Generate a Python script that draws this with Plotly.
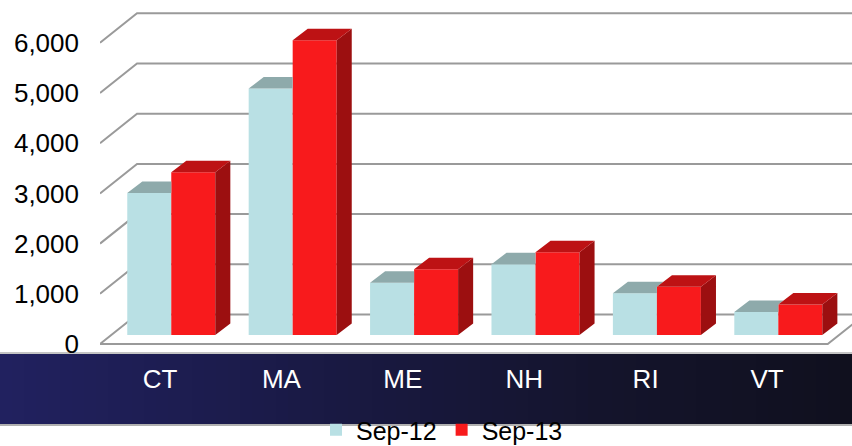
import plotly.graph_objects as go

# ---------------- data ----------------
categories = ["CT", "MA", "ME", "NH", "RI", "VT"]
series_names = ["Sep-12", "Sep-13"]
sep12 = [2830, 4910, 1040, 1410, 830, 460]
sep13 = [3240, 5870, 1310, 1650, 960, 610]
y_ticks = [0, 1000, 2000, 3000, 4000, 5000, 6000]

# ---------------- style / geometry ----------------
FONT = "Liberation Sans, Arial, sans-serif"
W, H = 852, 446
M_L, M_R, M_T, M_B = 100, 0, 0, 93
X_RANGE = [-0.494, 5.70]
Y_RANGE = [-179, 6853]
WALL_DX, WALL_DY = 0.305, 588          # depth of the 3D box (axis units)
BAR_PLANE = 0.305                       # fraction of depth where bars stand
BAR_SHIFT_X = WALL_DX * BAR_PLANE
BAR_BASE = WALL_DY * BAR_PLANE
BAR_W = 0.3625
BAR_DX, BAR_DY = 0.124, 229             # depth of each bar
FLOOR_RIGHT = 5.50
C12, C12_TOP = "#b9e0e4", "#8eaaab"
C13, C13_TOP, C13_SIDE = "#f81a1c", "#bd1214", "#9c0f10"
GRID = "#9a9a9a"

fig = go.Figure()

xs = list(range(len(categories)))
xc = [i + BAR_SHIFT_X for i in xs]

# front faces
fig.add_trace(go.Bar(x=xc, y=sep12, base=BAR_BASE, width=BAR_W, offset=-BAR_W,
                     name=series_names[0], marker=dict(color=C12, line=dict(width=0)),
                     hoverinfo="skip"))
fig.add_trace(go.Bar(x=xc, y=sep13, base=BAR_BASE, width=BAR_W, offset=0,
                     name=series_names[1], marker=dict(color=C13, line=dict(width=0)),
                     hoverinfo="skip"))

# 3D faces computed from the values
top12_x, top12_y = [], []
side13_x, side13_y = [], []
top13_x, top13_y = [], []
for c, v12, v13 in zip(xc, sep12, sep13):
    t12 = BAR_BASE + v12
    t13 = BAR_BASE + v13
    xl, xr = c - BAR_W, c
    s = max(0.0, (t12 + BAR_DY - t13) / BAR_DY)
    top12_x += [xl, xl + BAR_DX, xr + s * BAR_DX, xr, xr, xl, None]
    top12_y += [t12, t12 + BAR_DY, t12 + BAR_DY, min(t13, t12 + BAR_DY), t12, t12, None]
    xr13 = xr + BAR_W
    side13_x += [xr13, xr13 + BAR_DX, xr13 + BAR_DX, xr13, xr13, None]
    side13_y += [BAR_BASE, BAR_BASE + BAR_DY, t13 + BAR_DY, t13, BAR_BASE, None]
    top13_x += [xr, xr + BAR_DX, xr13 + BAR_DX, xr13, xr, None]
    top13_y += [t13, t13 + BAR_DY, t13 + BAR_DY, t13, t13, None]

for fx, fy, col in [(top12_x, top12_y, C12_TOP), (side13_x, side13_y, C13_SIDE),
                    (top13_x, top13_y, C13_TOP)]:
    fig.add_trace(go.Scatter(x=fx, y=fy, mode="lines", fill="toself", fillcolor=col,
                             line=dict(width=0, color=col), showlegend=False,
                             hoverinfo="skip"))

# floor front edge
fig.add_trace(go.Scatter(x=[X_RANGE[0], FLOOR_RIGHT, FLOOR_RIGHT + WALL_DX],
                         y=[0, 0, WALL_DY], mode="lines",
                         line=dict(color=GRID, width=2), showlegend=False,
                         hoverinfo="skip"))

shapes = []
# back wall gridlines + left wall diagonals
for v in y_ticks:
    x0 = X_RANGE[0]
    path = (f"M {x0},{v} L {x0 + WALL_DX},{v + WALL_DY} "
            f"L {X_RANGE[1] + 0.1},{v + WALL_DY}")
    shapes.append(dict(type="path", path=path, xref="x", yref="y", layer="below",
                       line=dict(color=GRID, width=2)))

# dark band behind category labels (horizontal gradient)
plot_w = W - M_L - M_R
plot_h = H - M_T - M_B
band_h = 72 / plot_h
stops = [(0, (33, 33, 96)), (300, (26, 26, 70)), (600, (20, 20, 44)), (852, (16, 16, 30))]
N = 71
for k in range(N):
    px0 = k * W / N
    px1 = (k + 1) * W / N + 0.6
    pm = (px0 + px1) / 2
    for (a, ca), (b, cb) in zip(stops[:-1], stops[1:]):
        if a <= pm <= b:
            f = (pm - a) / (b - a)
            col = tuple(round(ca[j] + (cb[j] - ca[j]) * f) for j in range(3))
            break
    shapes.append(dict(type="rect", xref="paper", yref="paper", layer="below",
                       x0=(px0 - M_L) / plot_w, x1=(px1 - M_L) / plot_w,
                       y0=-band_h, y1=0, line=dict(width=0),
                       fillcolor=f"rgb{col}"))
shapes.append(dict(type="line", xref="paper", yref="paper", layer="below",
                   x0=-M_L / plot_w, x1=1, y0=0, y1=0,
                   line=dict(color="#c4c4c4", width=2)))
shapes.append(dict(type="line", xref="paper", yref="paper", layer="below",
                   x0=-M_L / plot_w, x1=1, y0=-band_h, y1=-band_h,
                   line=dict(color="#b0b0b0", width=2)))

fig.update_layout(
    width=W, height=H,
    margin=dict(l=M_L, r=M_R, t=M_T, b=M_B, autoexpand=False),
    paper_bgcolor="white", plot_bgcolor="white",
    barmode="overlay",
    font=dict(family=FONT, size=26, color="black"),
    shapes=shapes,
    xaxis=dict(range=X_RANGE, tickvals=xs, ticktext=categories, showgrid=False,
               zeroline=False, showline=False, ticks="",
               tickfont=dict(color="white", size=26, family=FONT),
               ticklabelstandoff=8, fixedrange=True),
    yaxis=dict(range=Y_RANGE, tickvals=y_ticks, tickformat=",", showgrid=False,
               zeroline=False, showline=False, ticks="",
               tickfont=dict(color="black", size=26, family=FONT),
               ticklabelstandoff=20, fixedrange=True),
    legend=dict(orientation="h", xref="container", yref="container",
                x=316 / W, xanchor="left", y=(H - 430) / H, yanchor="middle",
                font=dict(size=25, family=FONT, color="black"),
                bgcolor="rgba(0,0,0,0)", traceorder="normal",
                itemsizing="constant"),
    showlegend=True,
)

fig.write_html("out.html", config={"displayModeBar": False},
               post_script="document.body.style.margin='0';"
                           "document.body.style.overflow='hidden';")
